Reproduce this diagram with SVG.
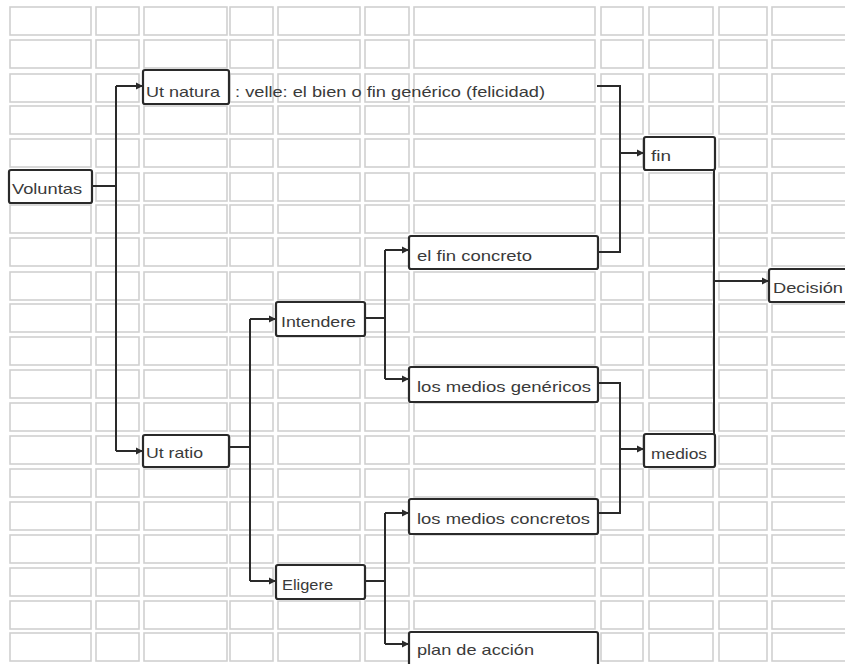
<svg xmlns="http://www.w3.org/2000/svg" xmlns:xlink="http://www.w3.org/1999/xlink" width="845" height="664" viewBox="0 0 845 664">
<style>
.cell{fill:none;stroke:#d0d0d0;stroke-width:1.6}
.box{fill:#fff;stroke:#2a2a2a;stroke-width:2.2}
.ln{fill:none;stroke:#2a2a2a;stroke-width:2}
.ar{fill:none;stroke:#2a2a2a;stroke-width:2;marker-end:url(#ah)}
text{font-family:"Liberation Sans",Arial,sans-serif;font-size:15px;fill:#3a3a3a}
</style>
<defs>
<marker id="ah" markerUnits="userSpaceOnUse" markerWidth="8" markerHeight="8" refX="7" refY="4" orient="auto">
<path d="M0,0.5 L7,4 L0,7.5 z" fill="#2a2a2a"/>
</marker>
<g id="row">
<rect class="cell" x="10" y="0" width="81" height="28"/>
<rect class="cell" x="96" y="0" width="43" height="28"/>
<rect class="cell" x="144" y="0" width="83" height="28"/>
<rect class="cell" x="230" y="0" width="43" height="28"/>
<rect class="cell" x="278" y="0" width="82" height="28"/>
<rect class="cell" x="365" y="0" width="44" height="28"/>
<rect class="cell" x="414" y="0" width="181" height="28"/>
<rect class="cell" x="601" y="0" width="42" height="28"/>
<rect class="cell" x="649" y="0" width="64" height="28"/>
<rect class="cell" x="719" y="0" width="48" height="28"/>
<rect class="cell" x="772" y="0" width="80" height="28"/>
</g>
</defs>
<rect width="845" height="664" fill="#fff"/>
<g id="grid">
<use xlink:href="#row" y="7"/>
<use xlink:href="#row" y="40"/>
<use xlink:href="#row" y="74"/>
<use xlink:href="#row" y="106"/>
<use xlink:href="#row" y="139"/>
<use xlink:href="#row" y="173"/>
<use xlink:href="#row" y="205"/>
<use xlink:href="#row" y="238"/>
<use xlink:href="#row" y="272"/>
<use xlink:href="#row" y="304"/>
<use xlink:href="#row" y="337"/>
<use xlink:href="#row" y="370"/>
<use xlink:href="#row" y="403"/>
<use xlink:href="#row" y="436"/>
<use xlink:href="#row" y="469"/>
<use xlink:href="#row" y="502"/>
<use xlink:href="#row" y="535"/>
<use xlink:href="#row" y="568"/>
<use xlink:href="#row" y="601"/>
<use xlink:href="#row" y="633"/>
</g>
<g id="connectors">
<path class="ln" d="M92,186 H116 M116,86 V451"/>
<path class="ar" d="M116,86 H143"/>
<path class="ar" d="M116,451 H143"/>
<path class="ln" d="M229,447 H250 M250,319 V581"/>
<path class="ar" d="M250,319 H276"/>
<path class="ar" d="M250,581 H276"/>
<path class="ln" d="M365,318 H385 M385,250 V379"/>
<path class="ar" d="M385,250 H409"/>
<path class="ar" d="M385,379 H409"/>
<path class="ln" d="M365,581 H385 M385,513 V644"/>
<path class="ar" d="M385,513 H409"/>
<path class="ar" d="M385,644 H409"/>
<path class="ln" d="M597,86 H620 V252 H598"/>
<path class="ar" d="M620,153 H644"/>
<path class="ln" d="M598,383 H620 V513 H598"/>
<path class="ar" d="M620,449 H644"/>
<path class="ln" d="M714,170 V434"/>
<path class="ar" d="M714,281 H769"/>
</g>
<g id="voluntas"><rect class="box" x="9" y="170" width="83" height="33" rx="2"/><text x="12" y="194" textLength="70" lengthAdjust="spacingAndGlyphs">Voluntas</text></g>
<g id="ut-natura"><rect class="box" x="143" y="70" width="86" height="34" rx="2"/><text x="146" y="97" textLength="74" lengthAdjust="spacingAndGlyphs">Ut natura</text></g>
<g id="velle"><text x="235" y="97" textLength="310" lengthAdjust="spacingAndGlyphs">: velle: el bien o fin genérico (felicidad)</text></g>
<g id="fin"><rect class="box" x="644" y="137" width="71" height="33" rx="2"/><text x="651" y="161" textLength="20" lengthAdjust="spacingAndGlyphs">fin</text></g>
<g id="el-fin-concreto"><rect class="box" x="409" y="236" width="189" height="33" rx="2"/><text x="417" y="261" textLength="115" lengthAdjust="spacingAndGlyphs">el fin concreto</text></g>
<g id="intendere"><rect class="box" x="276" y="302" width="89" height="34" rx="2"/><text x="281" y="327" textLength="75" lengthAdjust="spacingAndGlyphs">Intendere</text></g>
<g id="decision"><rect class="box" x="769" y="269" width="90" height="33" rx="2"/><text x="773" y="293" textLength="70" lengthAdjust="spacingAndGlyphs">Decisión</text></g>
<g id="medios-genericos"><rect class="box" x="409" y="367" width="189" height="35" rx="2"/><text x="417" y="392" textLength="174" lengthAdjust="spacingAndGlyphs">los medios genéricos</text></g>
<g id="ut-ratio"><rect class="box" x="143" y="435" width="86" height="32" rx="2"/><text x="146" y="458" textLength="57" lengthAdjust="spacingAndGlyphs">Ut ratio</text></g>
<g id="medios"><rect class="box" x="644" y="434" width="71" height="33" rx="2"/><text x="651" y="459" textLength="56" lengthAdjust="spacingAndGlyphs">medios</text></g>
<g id="medios-concretos"><rect class="box" x="409" y="499" width="189" height="35" rx="2"/><text x="417" y="524" textLength="173" lengthAdjust="spacingAndGlyphs">los medios concretos</text></g>
<g id="eligere"><rect class="box" x="276" y="565" width="89" height="34" rx="2"/><text x="282" y="590" textLength="51" lengthAdjust="spacingAndGlyphs">Eligere</text></g>
<g id="plan-de-accion"><rect class="box" x="409" y="632" width="189" height="40" rx="2"/><text x="417" y="655" textLength="117" lengthAdjust="spacingAndGlyphs">plan de acción</text></g>
</svg>
